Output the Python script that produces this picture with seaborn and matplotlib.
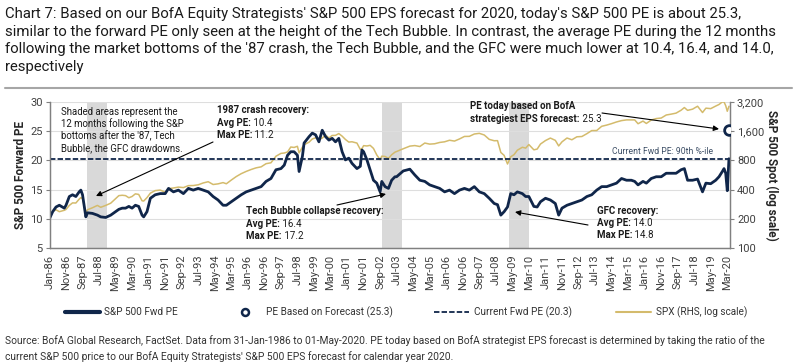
import pandas as pd
import seaborn as sns
import matplotlib.pyplot as plt
import matplotlib.ticker as mticker
from matplotlib.lines import Line2D

# data (month, fwd PE, SPX)
dates = ['1986-01', '1986-03', '1986-05', '1986-07', '1986-10', '1986-11', '1987-01', '1987-03',
         '1987-05', '1987-07', '1987-08', '1987-09', '1987-11', '1987-12', '1988-03', '1988-06',
         '1988-08', '1988-11', '1989-02', '1989-05', '1989-07', '1989-09', '1989-11', '1990-01',
         '1990-03', '1990-05', '1990-07', '1990-09', '1990-10', '1990-12', '1991-02', '1991-05',
         '1991-08', '1991-11', '1992-01', '1992-04', '1992-07', '1992-10', '1993-01', '1993-04',
         '1993-07', '1993-10', '1994-01', '1994-04', '1994-07', '1994-10', '1994-12', '1995-03',
         '1995-06', '1995-09', '1995-12', '1996-03', '1996-06', '1996-09', '1996-12', '1997-03',
         '1997-06', '1997-09', '1997-11', '1998-01', '1998-03', '1998-05', '1998-07', '1998-08',
         '1998-10', '1998-11', '1999-02', '1999-04', '1999-06', '1999-08', '1999-10', '1999-12',
         '2000-02', '2000-04', '2000-06', '2000-08', '2000-10', '2000-12', '2001-02', '2001-04',
         '2001-07', '2001-09', '2001-10', '2001-11', '2002-01', '2002-03', '2002-05', '2002-07',
         '2002-09', '2002-10', '2002-12', '2003-02', '2003-04', '2003-06', '2003-07', '2003-11',
         '2004-03', '2004-06', '2004-09', '2004-12', '2005-03', '2005-06', '2005-09', '2005-12',
         '2006-03', '2006-06', '2006-09', '2006-12', '2007-03', '2007-06', '2007-09', '2007-12',
         '2008-03', '2008-06', '2008-08', '2008-10', '2008-12', '2009-02', '2009-04', '2009-06',
         '2009-08', '2009-11', '2010-01', '2010-03', '2010-06', '2010-08', '2010-10', '2011-01',
         '2011-04', '2011-07', '2011-09', '2011-11', '2012-02', '2012-05', '2012-08', '2012-11',
         '2013-02', '2013-05', '2013-08', '2013-11', '2014-02', '2014-05', '2014-08', '2014-11',
         '2015-02', '2015-05', '2015-07', '2015-09', '2015-12', '2016-02', '2016-05', '2016-08',
         '2016-11', '2017-02', '2017-05', '2017-08', '2017-11', '2018-01', '2018-03', '2018-06',
         '2018-09', '2018-12', '2019-02', '2019-05', '2019-08', '2019-10', '2019-12', '2020-01',
         '2020-02', '2020-03', '2020-04']

pe_values = [10.0, 11.2, 12.0, 12.3, 11.8, 12.3, 13.8, 14.1,
             13.8, 14.6, 14.9, 14.1, 10.3, 11.0, 10.9, 10.6,
             10.3, 10.2, 10.6, 11.2, 11.6, 11.8, 11.8, 12.1,
             11.8, 12.3, 12.1, 10.6, 10.3, 11.2, 13.5, 14.1,
             14.3, 14.3, 15.2, 14.6, 14.9, 14.3, 15.2, 14.9,
             15.2, 14.9, 14.6, 13.8, 13.2, 12.3, 12.3, 12.9,
             13.5, 14.1, 14.6, 14.9, 15.2, 15.5, 16.4, 16.9,
             18.4, 18.6, 19.2, 20.9, 21.5, 21.5, 20.9, 18.1,
             20.7, 23.0, 24.1, 24.7, 24.4, 23.2, 25.2, 24.1,
             23.5, 23.8, 23.2, 23.8, 21.5, 20.1, 20.4, 19.5,
             18.6, 19.0, 21.8, 21.5, 20.1, 18.4, 16.6, 16.1,
             14.6, 16.4, 15.5, 15.2, 16.6, 17.2, 17.2, 18.2,
             18.5, 17.5, 16.6, 16.4, 15.8, 15.5, 15.2, 14.6,
             14.9, 14.3, 14.9, 15.2, 14.9, 15.5, 14.6, 14.3,
             13.5, 12.6, 12.4, 10.6, 11.2, 12.0, 14.3, 14.1,
             14.6, 14.3, 13.8, 13.8, 12.1, 12.0, 12.9, 13.5,
             13.2, 12.6, 10.6, 11.8, 12.3, 12.6, 12.9, 13.2,
             13.8, 14.1, 14.9, 15.5, 15.5, 15.8, 16.1, 16.9,
             16.6, 16.6, 16.4, 15.8, 16.4, 16.1, 16.9, 17.2,
             17.2, 17.8, 17.8, 17.8, 18.4, 18.6, 16.6, 16.6,
             16.8, 14.6, 16.1, 16.0, 16.6, 17.2, 18.1, 18.6,
             17.8, 14.8, 20.3]

spx_values = [212, 238, 247, 236, 244, 249, 274, 291,
              290, 318, 330, 322, 230, 247, 259, 274,
              262, 274, 289, 321, 346, 349, 346, 329,
              339, 361, 356, 306, 304, 330, 367, 390,
              395, 375, 409, 415, 424, 419, 439, 440,
              448, 468, 482, 451, 458, 472, 459, 501,
              545, 584, 616, 645, 671, 687, 741, 757,
              885, 947, 955, 980, 1102, 1091, 1121, 957,
              1099, 1164, 1238, 1335, 1373, 1320, 1363, 1469,
              1366, 1452, 1455, 1518, 1429, 1320, 1240, 1249,
              1211, 1041, 1060, 1139, 1130, 1147, 1067, 912,
              815, 886, 880, 841, 917, 975, 990, 1058,
              1126, 1141, 1115, 1212, 1181, 1191, 1229, 1248,
              1295, 1270, 1336, 1418, 1421, 1503, 1527, 1468,
              1323, 1280, 1283, 968, 903, 735, 873, 919,
              1021, 1096, 1074, 1169, 1031, 1049, 1183, 1286,
              1364, 1292, 1131, 1247, 1366, 1310, 1406, 1416,
              1515, 1631, 1633, 1806, 1859, 1924, 2003, 2068,
              2104, 2107, 2104, 1920, 2044, 1932, 2097, 2171,
              2199, 2364, 2412, 2472, 2648, 2824, 2641, 2718,
              2914, 2507, 2784, 2752, 2926, 3038, 3231, 3226,
              2954, 2585, 2912]

shade_starts = ['1987-12', '2002-10', '2009-03']
shade_ends = ['1988-12', '2003-10', '2010-03']
current_pe = 20.3
forecast_pe = 25.3
forecast_date = '2020-04'
pe_ticks = [5, 10, 15, 20, 25, 30]
spx_ticks = [100, 200, 400, 800, 1600, 3200]

navy = '#10264a'
gold = '#d4bb6c'
W, H = 800, 363

sns.set_style('white')
plt.rcParams['font.family'] = ['Roboto', 'DejaVu Sans']

df = pd.DataFrame({'date': pd.to_datetime(dates), 'pe': pe_values, 'spx': spx_values})


def P(x, y):
    # pixel position (from top-left) -> figure fraction
    return x / W, 1 - y / H


fig = plt.figure(figsize=(8, 3.63), dpi=100)
ax = fig.add_axes([49.5 / W, 1 - 247.7 / H, (730 - 49.5) / W, (247.7 - 102.3) / H])
ax2 = ax.twinx()
ax.set_zorder(ax2.get_zorder() + 1)
ax.patch.set_visible(False)

# shaded recovery windows, grid and SPX on the right axis
for s, e in zip(shade_starts, shade_ends):
    ax2.axvspan(pd.Timestamp(s), pd.Timestamp(e), color='#d9d9d9', lw=0, zorder=0)
sns.lineplot(data=df, x='date', y='spx', ax=ax2, color=gold, lw=1.1)
ax2.set_yscale('log', base=2)
ax2.set_ylim(100, 3200)
ax2.set_yticks(spx_ticks)
ax2.yaxis.set_major_formatter(mticker.FuncFormatter(lambda v, p: f'{int(v):,}'))
ax2.yaxis.set_minor_locator(mticker.NullLocator())
ax2.set_axisbelow(True)
ax2.grid(True, axis='y', color='#dedede', lw=0.8)
ax2.set_ylabel('S&P 500 Spot (log scale)', fontsize=8.5, fontweight='bold', rotation=270, labelpad=10)

# PE line, current PE line and the forecast point
sns.lineplot(data=df, x='date', y='pe', ax=ax, color=navy, lw=2.0)
ax.axhline(current_pe, color=navy, lw=1.3, ls=(0, (3, 1.2)))
ax.plot(pd.Timestamp(forecast_date), forecast_pe, 'o', ms=7, mfc='white', mec=navy, mew=2, zorder=5)
ax.set_ylim(5, 30)
ax.set_yticks(pe_ticks)
ax.set_ylabel('S&P 500 Forward PE', fontsize=8.5, fontweight='bold', labelpad=2)
ax.set_xlabel('')
ax2.set_xlabel('')

xticks = pd.date_range('1986-01-01', '2020-03-01', freq='10MS')
ax.set_xticks(xticks)
ax.set_xticklabels([d.strftime('%b-%y') for d in xticks], rotation=90, fontsize=7.5, color='#404040')
ax.set_xlim(pd.Timestamp('1986-01-01'), pd.Timestamp('2020-04-20'))

for a in (ax, ax2):
    a.grid(False, axis='x')
    a.tick_params(axis='both', length=3, width=0.8, color='#808080', labelsize=8, labelcolor='#404040', pad=2)
    a.spines['top'].set_visible(False)
    for sp in ('left', 'right', 'bottom'):
        a.spines[sp].set_color('#808080')
        a.spines[sp].set_linewidth(0.9)
ax.grid(False)

# title block
title_lines = [
    "Chart 7: Based on our BofA Equity Strategists' S&P 500 EPS forecast for 2020, today's S&P 500 PE is about 25.3,",
    "similar to the forward PE only seen at the height of the Tech Bubble. In contrast, the average PE during the 12 months",
    "following the market bottoms of the '87 crash, the Tech Bubble, and the GFC were much lower at 10.4, 16.4, and 14.0,",
    "respectively",
]
for i, line in enumerate(title_lines):
    fig.text(*P(5, 14 + 17.6 * i), line, fontsize=10.7, va='center', color='#1a1a1a')
fig.add_artist(Line2D([5 / W, 792 / W], [1 - 88 / H] * 2, color='#a6a6a6', lw=1.5))

# annotations
shade_note = ["Shaded areas represent the", "12 months following the S&P",
              "bottoms after the '87, Tech", "Bubble, the GFC drawdowns."]
for i, line in enumerate(shade_note):
    fig.text(*P(61, 111.5 + 12.3 * i), line, fontsize=6.9, va='center', color='#1a1a1a')


def bold_pair(x, y, bold, normal=None):
    t = fig.text(*P(x, y), bold, fontsize=7.0, fontweight='bold', va='center', color='#1a1a1a')
    if normal:
        ax.annotate(' ' + normal, xy=(1, 0.5), xycoords=t, va='center', ha='left', fontsize=7.0,
                    color='#1a1a1a', annotation_clip=False)


bold_pair(217, 110, '1987 crash recovery:')
bold_pair(217, 123, 'Avg PE:', '10.4')
bold_pair(217, 135, 'Max PE:', '11.2')

bold_pair(246, 211, 'Tech Bubble collapse recovery:')
bold_pair(246, 224, 'Avg PE:', '16.4')
bold_pair(246, 236, 'Max PE:', '17.2')

bold_pair(470, 106, 'PE today based on BofA')
bold_pair(470, 119, 'strategiest EPS forecast:', '25.3')

bold_pair(597, 211, 'GFC recovery:')
bold_pair(597, 223, 'Avg PE:', '14.0')
bold_pair(597, 235, 'Max PE:', '14.8')

fig.text(*P(612, 151), 'Current Fwd PE: 90th %-ile', fontsize=6.2, va='center', color='#3d4f66')

arrows = [((213, 142), (96, 196)), ((337, 205), (386, 194)),
          ((602, 113), (719, 129)), ((588, 225), (515, 212))]
for (x0, y0), (x1, y1) in arrows:
    ax.annotate('', xy=P(x1, y1), xycoords='figure fraction', xytext=P(x0, y0), textcoords='figure fraction',
                arrowprops=dict(arrowstyle='-|>', color='black', lw=0.8, mutation_scale=8, shrinkA=0, shrinkB=0),
                annotation_clip=False)

# legend: four entries placed where the reference has them
handles = [Line2D([], [], color=navy, lw=3),
           Line2D([], [], ls='', marker='o', ms=5, mfc='white', mec=navy, mew=1.8),
           Line2D([], [], color=navy, lw=1.3, ls=(0, (3, 1.2))),
           Line2D([], [], color=gold, lw=1.5)]
labels = ['S&P 500 Fwd PE', 'PE Based on Forecast (25.3)', 'Current Fwd PE (20.3)', 'SPX (RHS, log scale)']
legend_x = [65, 227, 434, 616]
for h, lab, lx in zip(handles, labels, legend_x):
    fig.legend([h], [lab], loc='center left', bbox_to_anchor=P(lx, 312), frameon=False,
               fontsize=7.2, handlelength=3.5, handletextpad=0.45, borderpad=0,
               borderaxespad=0, labelcolor='#333333')

# source
fig.text(*P(5, 341), "Source: BofA Global Research, FactSet. Data from 31-Jan-1986 to 01-May-2020. PE today based on "
         "BofA strategist EPS forecast is determined by taking the ratio of the", fontsize=7.35, va='center', color='#333333')
fig.text(*P(5, 357), "current S&P 500 price to our BofA Equity Strategists' S&P 500 EPS forecast for calendar year 2020.",
         fontsize=7.35, va='center', color='#333333')

fig.savefig('out.png', dpi=100)
